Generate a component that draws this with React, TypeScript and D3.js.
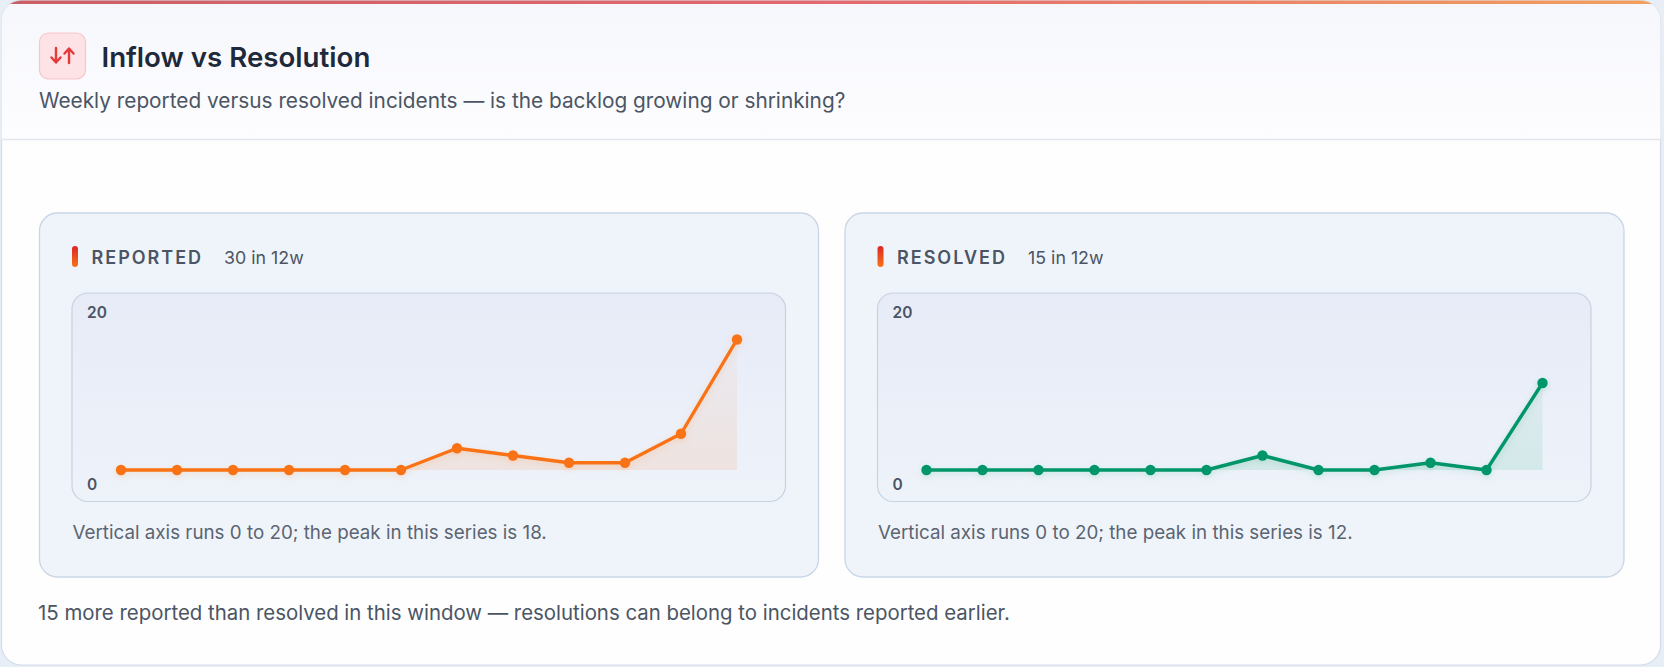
import React, { useEffect } from "react";
import * as d3 from "d3";

const weeks = ["W1","W2","W3","W4","W5","W6","W7","W8","W9","W10","W11","W12"];
const reported = [0, 0, 0, 0, 0, 0, 3, 2, 1, 1, 5, 18];
const resolved = [0, 0, 0, 0, 0, 0, 2, 0, 0, 1, 0, 12];
const yTicks = [0, 20];
const titleText = "Inflow vs Resolution";
const subtitleText = "Weekly reported versus resolved incidents — is the backlog growing or shrinking?";
const footerText = "15 more reported than resolved in this window — resolutions can belong to incidents reported earlier.";

const series = [
  { key: "rep", label: "REPORTED", values: reported, color: "#f97316", fillColor: "#f4a06a" },
  { key: "res", label: "RESOLVED", values: resolved, color: "#059669", fillColor: "#5fbf9c" },
];

const FONT = "Inter, 'Noto Sans', sans-serif";
const W = 1664;
const H = 667;

function Panel({ s, x0 }: { s: typeof series[number]; x0: number }) {
  const panelW = 779;
  const innerL = x0 + 32.5;
  const innerR = x0 + panelW - 33;
  const x = d3.scalePoint<string>().domain(weeks).range([innerL + 49, innerR - 48.5]);
  const y = d3.scaleLinear().domain([0, 20]).range([470, 325]);
  const total = d3.sum(s.values);
  const peak = d3.max(s.values) as number;
  const line = d3.line<number>().x((_, i) => x(weeks[i]) as number).y((d) => y(d));
  const area = d3.area<number>().x((_, i) => x(weeks[i]) as number).y0(y(0)).y1((d) => y(d));
  const gid = `g-${s.key}`;
  return (
    <g>
      <defs>
        <linearGradient id={gid} gradientUnits="userSpaceOnUse" x1="0" y1={y(20)} x2="0" y2={y(0)}>
          <stop offset="0" stopColor={s.fillColor} stopOpacity="0.03" />
          <stop offset="1" stopColor={s.fillColor} stopOpacity="0.18" />
        </linearGradient>
        <filter id={`sh-${s.key}`} x="-10%" y="-20%" width="120%" height="140%">
          <feDropShadow dx="0" dy="2" stdDeviation="3" floodColor={s.color} floodOpacity="0.18" />
        </filter>
      </defs>
      <rect x={x0} y={213} width={panelW} height={364} rx={18} fill="#eff4fa" stroke="#c9d6e6" strokeWidth={1.3} />
      <rect x={x0 + 32.5} y={246} width={6} height={21} rx={3} fill="url(#markerGrad)" />
      <text x={x0 + 52} y={263.5} fontFamily={FONT} fill="#4b5563">
        <tspan fontSize={18} fontWeight={600} letterSpacing={2}>{s.label}</tspan>
        <tspan dx={21} fontSize={17.8} fontWeight={400}>{`${total} in ${weeks.length}w`}</tspan>
      </text>
      <rect x={innerL} y={293} width={innerR - innerL} height={208.5} rx={16} fill="url(#innerGrad)" stroke="#c6d2e2" strokeWidth={1.2} />
      <text x={innerL + 15} y={y(yTicks[1]) - 7} fontFamily={FONT} fontSize={15.5} fontWeight={600} fill="#4b5563">{yTicks[1]}</text>
      <text x={innerL + 15} y={y(yTicks[0]) + 20} fontFamily={FONT} fontSize={15.5} fontWeight={600} fill="#4b5563">{yTicks[0]}</text>
      <path d={area(s.values) as string} fill={`url(#${gid})`} />
      <g filter={`url(#sh-${s.key})`}>
        <path d={line(s.values) as string} fill="none" stroke={s.color} strokeWidth={3.4} strokeLinejoin="round" strokeLinecap="round" />
        {s.values.map((v, i) => (
          <circle key={i} cx={x(weeks[i]) as number} cy={y(v)} r={5.2} fill={s.color} />
        ))}
      </g>
      <text x={x0 + 33} y={539} fontFamily={FONT} fontSize={18.8} fill="#5b6472">
        {`Vertical axis runs ${yTicks[0]} to ${yTicks[1]}; the peak in this series is ${peak}.`}
      </text>
    </g>
  );
}

export default function App() {
  useEffect(() => {
    document.body.style.margin = "0";
    document.body.style.background = "#e8eef5";
  }, []);
  return (
    <svg width={W} height={H} style={{ display: "block" }}>
      <defs>
        <clipPath id="cardClip">
          <rect x={1.5} y={0.5} width={1659} height={664.5} rx={20} />
        </clipPath>
        <linearGradient id="topBar" x1="0" x2="1" y1="0" y2="0">
          <stop offset="0" stopColor="#c95f66" />
          <stop offset="0.5" stopColor="#e2696e" />
          <stop offset="1" stopColor="#f2a05e" />
        </linearGradient>
        <linearGradient id="headGrad" x1="0" x2="0" y1="0" y2="1">
          <stop offset="0" stopColor="#f6f7fc" />
          <stop offset="1" stopColor="#fdfdff" />
        </linearGradient>
        <linearGradient id="markerGrad" x1="0" x2="0" y1="0" y2="1">
          <stop offset="0" stopColor="#dc2626" />
          <stop offset="1" stopColor="#f97316" />
        </linearGradient>
        <linearGradient id="innerGrad" x1="0" x2="0" y1="0" y2="1">
          <stop offset="0" stopColor="#e7ebf7" />
          <stop offset="1" stopColor="#eef3fa" />
        </linearGradient>
      </defs>
      <rect x={0} y={0} width={W} height={H} fill="#e8eef5" />
      <rect x={1.5} y={0.5} width={1659} height={664.5} rx={20} fill="#fefeff" stroke="#d3dce8" strokeWidth={1.2} />
      <g clipPath="url(#cardClip)">
        <rect x={0} y={0} width={W} height={139.5} fill="url(#headGrad)" />
        <rect x={0} y={0} width={W} height={4} fill="url(#topBar)" />
      </g>
      <line x1={2} x2={1660} y1={139.5} y2={139.5} stroke="#e3e6ec" strokeWidth={1.5} />
      <rect x={39.5} y={33} width={46} height={46} rx={9} fill="#fde3e5" stroke="#f7c6cb" strokeWidth={1.2} />
      <g stroke="#e5393b" strokeWidth={2.4} fill="none" strokeLinecap="round" strokeLinejoin="round">
        <path d="M56 48 V62 M51.5 57.5 L56 62.5 L60.5 57.5" />
        <path d="M69 63 V49 M64.5 53.5 L69 48.5 L73.5 53.5" />
      </g>
      <text x={101.5} y={67} fontFamily={FONT} fontSize={27.7} fontWeight={600} fill="#1e293b">{titleText}</text>
      <text x={39} y={108} fontFamily={FONT} fontSize={20.8} fill="#4b5563">{subtitleText}</text>
      <Panel s={series[0]} x0={39.5} />
      <Panel s={series[1]} x0={845} />
      <text x={38} y={620} fontFamily={FONT} fontSize={20.4} fill="#4b5563">{footerText}</text>
    </svg>
  );
}
